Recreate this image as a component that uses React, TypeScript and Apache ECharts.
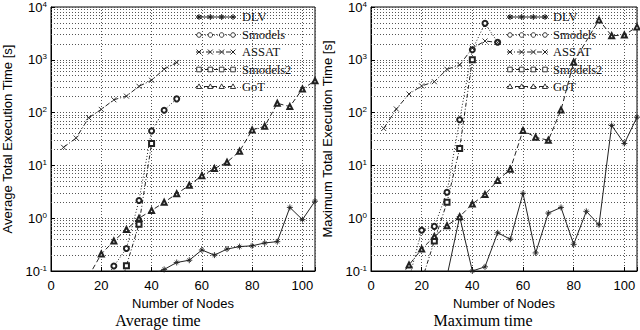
import React, { useEffect, useRef } from "react";
import * as echarts from "echarts";

// ---------- data ----------
// Left panel: average time
const dlvAvgX = [40, 45, 50, 55, 60, 65, 70, 75, 80, 85, 90, 95, 100, 105];
const dlvAvg = [0.085, 0.107, 0.145, 0.16, 0.25, 0.2, 0.26, 0.29, 0.3, 0.34, 0.36, 1.6, 0.94, 2.1];
const smodelsAvgX = [20, 25, 30, 35, 40, 45, 50];
const smodelsAvg = [0.055, 0.124, 0.267, 2.16, 45, 111, 182];
const assatAvgX = [5, 10, 15, 20, 25, 30, 35, 40, 45, 50];
const assatAvg = [22, 33, 80, 115, 175, 205, 315, 410, 665, 890];
const smodels2AvgX = [25, 30, 35, 40];
const smodels2Avg = [0.02, 0.126, 0.77, 26];
const gotAvgX = [15, 20, 25, 30, 35, 40, 45, 50, 55, 60, 65, 70, 75, 80, 85, 90, 95, 100, 105];
const gotAvg = [0.08, 0.21, 0.37, 0.61, 1.0, 1.4, 2.0, 2.9, 4.2, 6.4, 8.7, 11.5, 18.5, 47, 55, 150, 130, 280, 400];

// Right panel: maximum time
const dlvMaxX = [30, 35, 40, 45, 50, 55, 60, 65, 70, 75, 80, 85, 90, 95, 100, 105];
const dlvMax = [0.08, 1.07, 0.1, 0.12, 0.53, 0.4, 2.95, 0.22, 1.25, 1.6, 0.32, 1.35, 0.75, 57, 26, 82];
const smodelsMaxX = [15, 20, 25, 30, 35, 40, 45, 50];
const smodelsMax = [0.07, 0.59, 0.7, 3.1, 73, 1550, 4900, 2150];
const assatMaxX = [5, 10, 15, 20, 25, 30, 35, 40, 45, 50];
const assatMax = [50, 117, 225, 320, 385, 660, 800, 1650, 2270, 2130];
const smodels2MaxX = [20, 25, 30, 35, 40];
const smodels2Max = [0.065, 0.37, 2.0, 21, 1000];
const gotMaxX = [10, 15, 20, 25, 30, 35, 40, 45, 50, 55, 60, 65, 70, 75, 80, 90, 95, 100, 105];
const gotMax = [0.06, 0.13, 0.26, 0.45, 0.72, 1.07, 1.86, 2.8, 5.2, 8.5, 46, 34, 30, 112, 900, 5700, 2850, 2950, 4200];

const seriesNames = ["DLV", "Smodels", "ASSAT", "Smodels2", "GoT"];
const xTicks = [0, 20, 40, 60, 80, 100];
const yDecades = [0.1, 1, 10, 100, 1000];
const minorMultipliers = [2, 3, 4, 5, 6, 7, 8, 9];
const panelTitles = ["Average time", "Maximum time"];
const yNames = ["Average Total Execution Time [s]", "Maximum Total Execution Time [s]"];

// ---------- styles ----------
const SANS = '"Liberation Sans", Arial, Helvetica, sans-serif';
const SERIF = '"Liberation Serif", "Times New Roman", serif';
const GRID_COLOR = "#555";
const INK = "#222";

const styles: Record<string, { dash: number[] | "solid"; symbol: string; size: number }> = {
  DLV: { dash: "solid", symbol: "path://M5,0L5,10M0,5L10,5M2,2L8,8M8,2L2,8", size: 6 },
  Smodels: { dash: [1, 2], symbol: "emptyCircle", size: 5 },
  ASSAT: { dash: [5, 2, 1, 2], symbol: "path://M0,0L10,10M10,0L0,10", size: 5 },
  Smodels2: { dash: [4, 2, 1, 2], symbol: "emptyRect", size: 5 },
  GoT: { dash: [5, 3], symbol: "emptyTriangle", size: 5 },
};

function pairs(xs: number[], ys: number[]) {
  return xs.map((x, i) => [x, ys[i]]);
}

function mkSeries(name: string, xs: number[], ys: number[], gi: number, withMinor: boolean) {
  const st = styles[name];
  const s: any = {
    name,
    type: "line",
    xAxisIndex: gi,
    yAxisIndex: gi,
    data: pairs(xs, ys),
    symbol: st.symbol,
    symbolSize: st.size,
    showAllSymbol: true,
    clip: true,
    lineStyle: { color: INK, width: 1, type: st.dash },
    itemStyle: { color: INK, borderColor: INK, borderWidth: 0.9 },
    emphasis: { disabled: true },
    z: 3,
  };
  if (withMinor) {
    const lines: any[] = [];
    yDecades.forEach((d) => minorMultipliers.forEach((m) => lines.push({ yAxis: +(d * m).toPrecision(3) })));
    s.markLine = {
      silent: true,
      symbol: ["none", "none"],
      label: { show: false },
      lineStyle: { color: GRID_COLOR, width: 1, type: [1, 2] },
      emphasis: { disabled: true },
      data: lines,
      z: 1,
    };
  }
  return s;
}

function markerEls(kind: string, cx: number, cy: number): any[] {
  const ln = (x1: number, y1: number, x2: number, y2: number) => ({
    type: "line",
    shape: { x1, y1, x2, y2 },
    style: { stroke: INK, lineWidth: 1 },
    z: 10,
  });
  if (kind === "DLV")
    return [ln(cx - 3, cy, cx + 3, cy), ln(cx, cy - 3, cx, cy + 3), ln(cx - 2, cy - 2, cx + 2, cy + 2), ln(cx + 2, cy - 2, cx - 2, cy + 2)];
  if (kind === "ASSAT") return [ln(cx - 2.5, cy - 2.5, cx + 2.5, cy + 2.5), ln(cx + 2.5, cy - 2.5, cx - 2.5, cy + 2.5)];
  if (kind === "Smodels")
    return [{ type: "circle", shape: { cx, cy, r: 2.3 }, style: { fill: "#fff", stroke: INK, lineWidth: 0.9 }, z: 10 }];
  if (kind === "Smodels2")
    return [{ type: "rect", shape: { x: cx - 2.3, y: cy - 2.3, width: 4.6, height: 4.6 }, style: { fill: "#fff", stroke: INK, lineWidth: 0.9 }, z: 10 }];
  return [
    {
      type: "polygon",
      shape: { points: [[cx, cy - 2.6], [cx + 2.6, cy + 2], [cx - 2.6, cy + 2]] },
      style: { fill: "#fff", stroke: INK, lineWidth: 0.9 },
      z: 10,
    },
  ];
}

function legendEls(x0: number, len: number, tx: number): any[] {
  const rowsY = [17, 35, 52, 69.5, 86.5];
  const els: any[] = [];
  seriesNames.forEach((name, i) => {
    const y = rowsY[i];
    const st = styles[name];
    els.push({
      type: "line",
      shape: { x1: x0, y1: y, x2: x0 + len, y2: y },
      style: { stroke: INK, lineWidth: 1, lineDash: st.dash === "solid" ? null : st.dash },
      z: 10,
    });
    for (let k = 0; k < 4; k++) {
      const cx = x0 + 3 + (k * (len - 6)) / 3;
      els.push(...markerEls(name, cx, y));
    }
    els.push({
      type: "text",
      x: tx,
      y,
      style: { text: name, fontSize: 12.5, fontFamily: SERIF, fill: "#111", align: "left", verticalAlign: "middle" },
      z: 10,
    });
  });
  return els;
}

function xAxis(gi: number) {
  return {
    gridIndex: gi,
    type: "value",
    min: 0,
    max: 105,
    interval: 20,
    name: "Number of Nodes",
    nameLocation: "middle",
    nameGap: 22,
    nameTextStyle: { fontFamily: SANS, fontSize: 13, color: "#000" },
    axisLine: { show: true, lineStyle: { color: "#000", width: 1 } },
    axisTick: { show: true, inside: true, length: 4, lineStyle: { color: "#000" } },
    axisLabel: {
      fontFamily: SANS,
      fontSize: 13,
      color: "#000",
      margin: 8,
      formatter: (v: number) => (xTicks.indexOf(v) >= 0 ? String(v) : ""),
    },
    splitLine: { show: true, lineStyle: { color: GRID_COLOR, width: 1, type: [1, 2] } },
  };
}

function yAxis(gi: number) {
  return {
    gridIndex: gi,
    type: "log",
    logBase: 10,
    min: 0.1,
    max: 10000,
    splitNumber: 5,
    name: yNames[gi],
    nameLocation: "middle",
    nameGap: 37,
    nameTextStyle: { fontFamily: SANS, fontSize: 13, color: "#000" },
    axisLine: { show: true, lineStyle: { color: "#000", width: 1 } },
    axisTick: { show: true, inside: true, length: 4, lineStyle: { color: "#000" } },
    axisLabel: {
      margin: 4,
      formatter: (v: number) => `{b|10}{s|${Math.round(Math.log10(v))}}`,
      rich: {
        b: { fontFamily: SANS, fontSize: 13, color: "#000" },
        s: { fontFamily: SANS, fontSize: 8, color: "#000", verticalAlign: "top", padding: [0, 0, 6, 0] },
      },
    },
    splitLine: { show: true, lineStyle: { color: GRID_COLOR, width: 1, type: [1, 2] } },
  };
}

export default function App() {
  const ref = useRef<HTMLDivElement>(null);
  useEffect(() => {
    if (!ref.current) return;
    const chart = echarts.init(ref.current, null, { renderer: "svg" });
    const option: any = {
      animation: false,
      backgroundColor: "#fff",
      grid: [
        { left: 49, top: 5, width: 266, height: 266, show: true, borderColor: "#000", borderWidth: 1, backgroundColor: "transparent" },
        { left: 371, top: 5, width: 266, height: 266, show: true, borderColor: "#000", borderWidth: 1, backgroundColor: "transparent" },
      ],
      xAxis: [xAxis(0), xAxis(1)],
      yAxis: [yAxis(0), yAxis(1)],
      series: [
        mkSeries("DLV", dlvAvgX, dlvAvg, 0, true),
        mkSeries("Smodels", smodelsAvgX, smodelsAvg, 0, false),
        mkSeries("ASSAT", assatAvgX, assatAvg, 0, false),
        mkSeries("Smodels2", smodels2AvgX, smodels2Avg, 0, false),
        mkSeries("GoT", gotAvgX, gotAvg, 0, false),
        mkSeries("DLV", dlvMaxX, dlvMax, 1, true),
        mkSeries("Smodels", smodelsMaxX, smodelsMax, 1, false),
        mkSeries("ASSAT", assatMaxX, assatMax, 1, false),
        mkSeries("Smodels2", smodels2MaxX, smodels2Max, 1, false),
        mkSeries("GoT", gotMaxX, gotMax, 1, false),
      ],
      graphic: [
        ...legendEls(196, 40, 242),
        ...legendEls(507, 41, 553),
        {
          type: "text",
          x: 158,
          y: 320,
          style: { text: panelTitles[0], fontSize: 16, fontFamily: SERIF, fill: "#000", align: "center", verticalAlign: "middle" },
        },
        {
          type: "text",
          x: 483,
          y: 320,
          style: { text: panelTitles[1], fontSize: 16, fontFamily: SERIF, fill: "#000", align: "center", verticalAlign: "middle" },
        },
      ],
    };
    chart.setOption(option);
    return () => chart.dispose();
  }, []);
  return <div ref={ref} style={{ position: "fixed", left: 0, top: 0, width: 640, height: 330 }} />;
}
